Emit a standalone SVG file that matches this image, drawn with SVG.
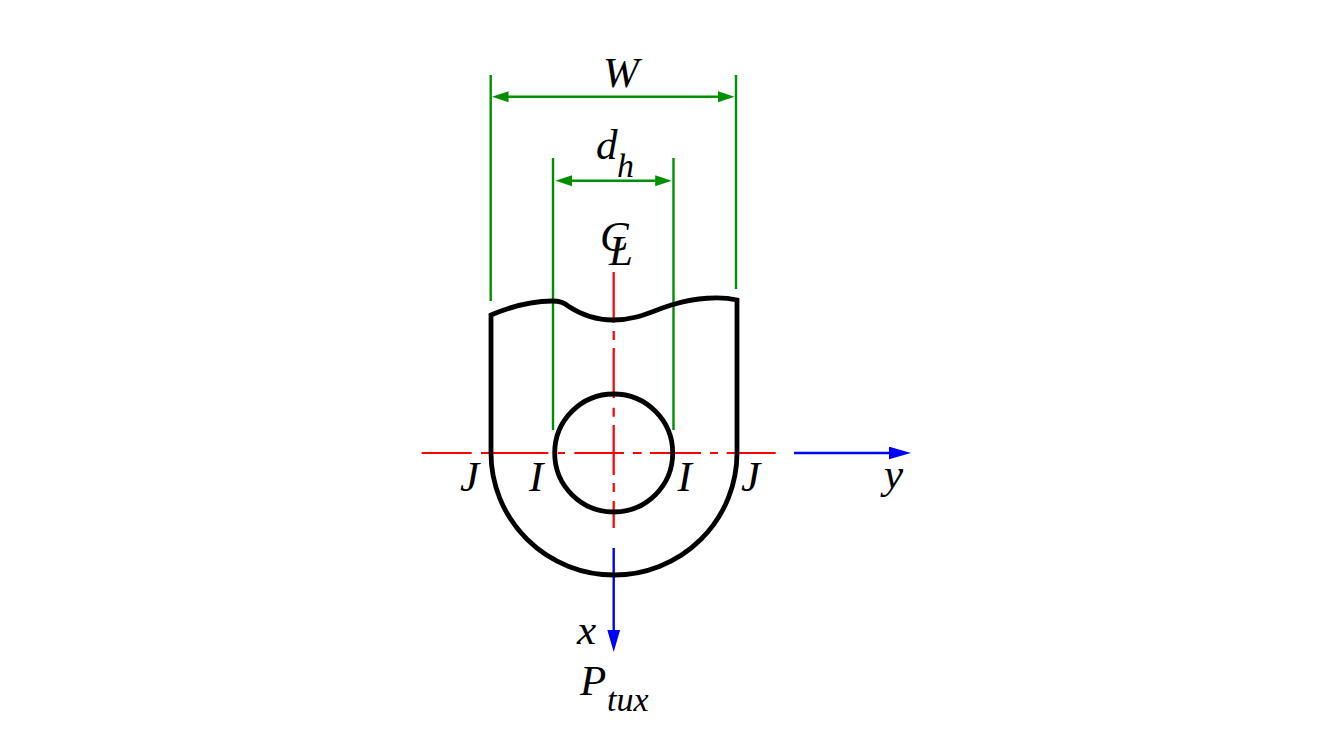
<svg xmlns="http://www.w3.org/2000/svg" width="1321" height="739" viewBox="0 0 1321 739">
<style>
.g{stroke:#008f00;stroke-width:2.400;fill:none}
.r{stroke:#ff0000;stroke-width:2.200;fill:none}
.b{stroke:#0000ff;stroke-width:2.400;fill:none}
.k{stroke:#000;stroke-width:4.800;fill:none}
text{font-family:"Liberation Serif","Times New Roman",serif;font-style:italic;fill:#000;font-size:43px}
.s{font-size:34px}
</style>
<defs>
<marker id="ag" markerUnits="userSpaceOnUse" markerWidth="18" markerHeight="12" refX="10" refY="5.500" orient="auto-start-reverse"><path d="M0 0L16.500 5.500L0 11z" fill="#008f00"/></marker>
<marker id="ab" markerUnits="userSpaceOnUse" markerWidth="24" markerHeight="14" refX="10" refY="6.500" orient="auto"><path d="M0 0L22.500 6.500L0 13z" fill="#0000ff"/></marker>
</defs>
<rect width="1321" height="739" fill="#fff"/>
<g id="connectors">
<path class="g" d="M490.700 75V301M736 75V289M553 158V430M673.500 158V430"/>
<path class="g" d="M498.500 96.700H728" marker-start="url(#ag)" marker-end="url(#ag)"/>
<path class="g" d="M562 180.700H665.200" marker-start="url(#ag)" marker-end="url(#ag)"/>
<path class="r" d="M421.700 453H471.700M481 453H548.300M557.700 453H565M574.300 453H624M633 453H641.700M650 453H701M710 453H718M726.700 453H775.700"/>
<path class="r" d="M613.700 272V322.700M613.700 331V340M613.700 348V398M613.700 407.700V416.700M613.700 425V475M613.700 483V492M613.700 501V528"/>
<path class="b" d="M794 453H898.500" marker-end="url(#ab)"/>
<path class="b" d="M613.700 548V639.500" marker-end="url(#ab)"/>
</g>
<g id="body"><path class="k" d="M491 315C510 307 530 301 552 301C560 301 565 303 568 306C580 314 595 320 613 320C640 320 655 309 675 304C695 298 720 296 737 300V453A122.500 121.500 0 0 1 491 453Z"/></g>
<g id="hole"><circle class="k" cx="613.700" cy="453" r="59"/></g>
<g id="labels">
<text x="603" y="86.500">W</text>
<text x="596" y="159">d</text>
<text x="617" y="177" class="s">h</text>
<text x="600" y="251">C</text>
<text x="609" y="265">L</text>
<text x="460" y="491">J</text>
<text x="529" y="491">I</text>
<text x="677.500" y="491">I</text>
<text x="741" y="491">J</text>
<text x="884" y="488">y</text>
<text x="577" y="644">x</text>
<text x="580" y="695">P</text>
<text x="607" y="711" class="s">tux</text>
</g>
</svg>
